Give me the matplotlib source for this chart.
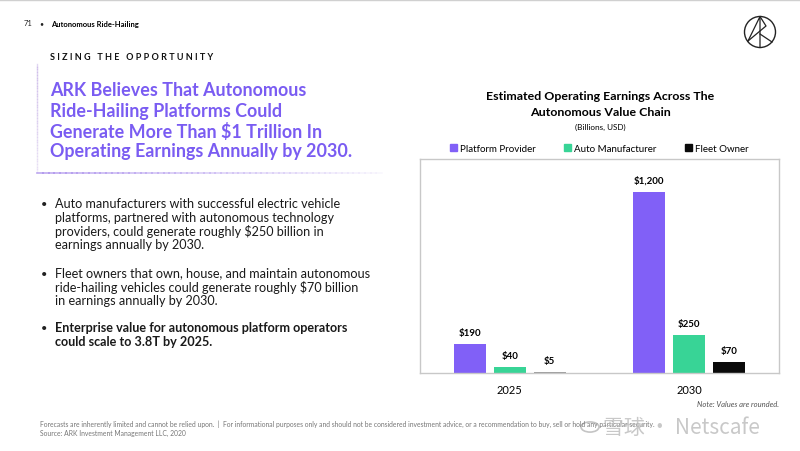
import matplotlib.pyplot as plt
import matplotlib.patches as patches
import numpy as np

years = ['2025', '2030']
series = ['Platform Provider', 'Auto Manufacturer', 'Fleet Owner']
platform = [190, 1200]
auto = [40, 250]
fleet = [5, 70]
labels_platform = ['$190', '$1,200']
labels_auto = ['$40', '$250']
labels_fleet = ['$5', '$70']

purple = '#8160f7'
green = '#38d496'
black = '#0a0a0a'
fleet_colors = ['#9a9a9a', black]

bullets = [
    ('Auto manufacturers with successful electric vehicle\nplatforms, partnered with autonomous technology\nproviders, could generate roughly $250 billion in\nearnings annually by 2030.', 'normal'),
    ('Fleet owners that own, house, and maintain autonomous\nride-hailing vehicles could generate roughly $70 billion\nin earnings annually by 2030.', 'normal'),
    ('Enterprise value for autonomous platform operators\ncould scale to 3.8T by 2025.', 'bold'),
]

W, H = 800, 452
plt.rcParams['font.family'] = ['Lato', 'DejaVu Sans']

fig = plt.figure(figsize=(8, 4.52), dpi=100)


def px(x, y):
    return x / W, 1 - y / H


# header
fig.text(*px(24, 24), '71', fontsize=5.5, va='center', color='#222222')
fig.text(*px(39, 24), '•', fontsize=5, va='center', color='#222222')
fig.text(*px(51, 24), 'Autonomous Ride-Hailing', fontsize=5.5, fontweight='bold', va='center')
fig.add_artist(plt.Line2D([0, 1], [1 - 1 / H, 1 - 1 / H], transform=fig.transFigure, color='#d0d0d0', lw=1))

fig.text(*px(50, 58), 'S I Z I N G   T H E   O P P O R T U N I T Y', fontsize=6.5,
         fontweight='bold', va='center', color='#111111')

heading = ['ARK Believes That Autonomous', 'Ride-Hailing Platforms Could',
           'Generate More Than $1 Trillion In', 'Operating Earnings Annually by 2030.']
for i, line in enumerate(heading):
    fig.text(*px(50, 91 + i * 20.3), line, fontsize=12.9, fontweight='bold', color='#7a5cf2', va='center')

# gradient bracket lines
for k in range(40):
    a = 0.5 * (1 - k / 40)
    y0, y1 = 65 + k * 108 / 40, 65 + (k + 1) * 108 / 40
    fig.add_artist(plt.Line2D([37 / W, 37 / W], [1 - y0 / H, 1 - y1 / H], transform=fig.transFigure,
                              color='#b59adf', alpha=0.15 + a * 0.5, lw=1))
for k in range(60):
    x0, x1 = 37 + k * 345 / 60, 37 + (k + 1) * 345 / 60
    a = 0.6 * (1 - k / 60) + 0.05
    fig.add_artist(plt.Line2D([x0 / W, x1 / W], [1 - 174 / H, 1 - 174 / H], transform=fig.transFigure,
                              color='#9b7be8', alpha=a, lw=1.2))

# bullets
ys = [205, 274, 329]
for (txt, wt), y in zip(bullets, ys):
    fig.text(*px(41, y), '•', fontsize=8, va='center', color='#222222')
    fig.text(*px(55, y - 6.5), txt, fontsize=9.1, fontweight=wt, va='top', color='#1a1a1a',
             linespacing=1.12)

# footer
fig.text(*px(40, 424), 'Forecasts are inherently limited and cannot be relied upon.  |  For informational purposes only and should not be considered investment advice, or a recommendation to buy, sell or hold any particular security.',
         fontsize=4.9, color='#777777', va='center')
fig.text(*px(40, 433), 'Source: ARK Investment Management LLC, 2020', fontsize=4.9, color='#777777', va='center')
fig.text(*px(603, 428), '雪球 · Netscafe', fontsize=15, color='#bbbbbb', alpha=0.8, va='center',
         family=['Noto Sans CJK SC', 'DejaVu Sans'])
fig.add_artist(patches.Circle(px(590, 428), 9 / W, transform=fig.transFigure, fill=False,
                              color='#c4c4c4', lw=1.2))

# logo
lax = fig.add_axes([(760 - 18) / W, 1 - (33 + 18) / H, 36 / W, 36 / H])
lax.set_xlim(-18, 18)
lax.set_ylim(-18, 18)
lax.axis('off')
lax.add_patch(patches.Circle((0, 0), 15.5, fill=False, lw=1, color='#222222'))
lax.plot([-12, 0, 0], [-9, 15.5, -15.5], color='#222222', lw=0.9)
lax.plot([0, 12], [-2, -10], color='#222222', lw=0.9)
lax.plot([-12, 6, 0], [-9, 6, 15.5], color='#222222', lw=0.9)

# chart
fig.text(*px(600, 96), 'Estimated Operating Earnings Across The', fontsize=8.9, fontweight='bold', ha='center', va='center')
fig.text(*px(600, 113), 'Autonomous Value Chain', fontsize=8.9, fontweight='bold', ha='center', va='center')
fig.text(*px(600, 127), '(Billions, USD)', fontsize=5.9, ha='center', va='center')

ax = fig.add_axes([420 / W, 1 - 374 / H, 359 / W, 214 / H])
x = np.arange(len(years))
off = 40 / 180
bw = 32 / 180
b1 = ax.bar(x - off, platform, bw, color=purple, label=series[0])
b2 = ax.bar(x, auto, bw, color=green, label=series[1])
b3 = ax.bar(x + off, fleet, bw, color=fleet_colors, label=series[2])
for bars, labs in [(b1, labels_platform), (b2, labels_auto), (b3, labels_fleet)]:
    for b, lab in zip(bars, labs):
        ax.annotate(lab, (b.get_x() + b.get_width() / 2, b.get_height()), xytext=(0, 5),
                    textcoords='offset points', ha='center', va='bottom', fontsize=7, fontweight='bold')
ax.set_xlim(-0.5, 1.5)
ax.set_ylim(0, 1417)
ax.set_yticks([])
ax.set_xticks(x)
ax.set_xticklabels(years, fontsize=8)
ax.tick_params(axis='x', length=0, pad=8)
for s in ax.spines.values():
    s.set_color('#c8c8c8')
    s.set_linewidth(1)

handles = [patches.Patch(color=purple), patches.Patch(color=green), patches.Patch(color=black)]
ax.legend(handles, series, loc='lower center', bbox_to_anchor=(0.5, 1.01), ncol=3, frameon=False,
          fontsize=7, handlelength=0.7, handleheight=0.7, handletextpad=0.35, columnspacing=2.9,
          borderaxespad=0)

fig.text(*px(779, 405), 'Note: Values are rounded.', fontsize=5.5, style='italic', color='#555555',
         ha='right', va='center')

fig.savefig('out.png', dpi=100)
